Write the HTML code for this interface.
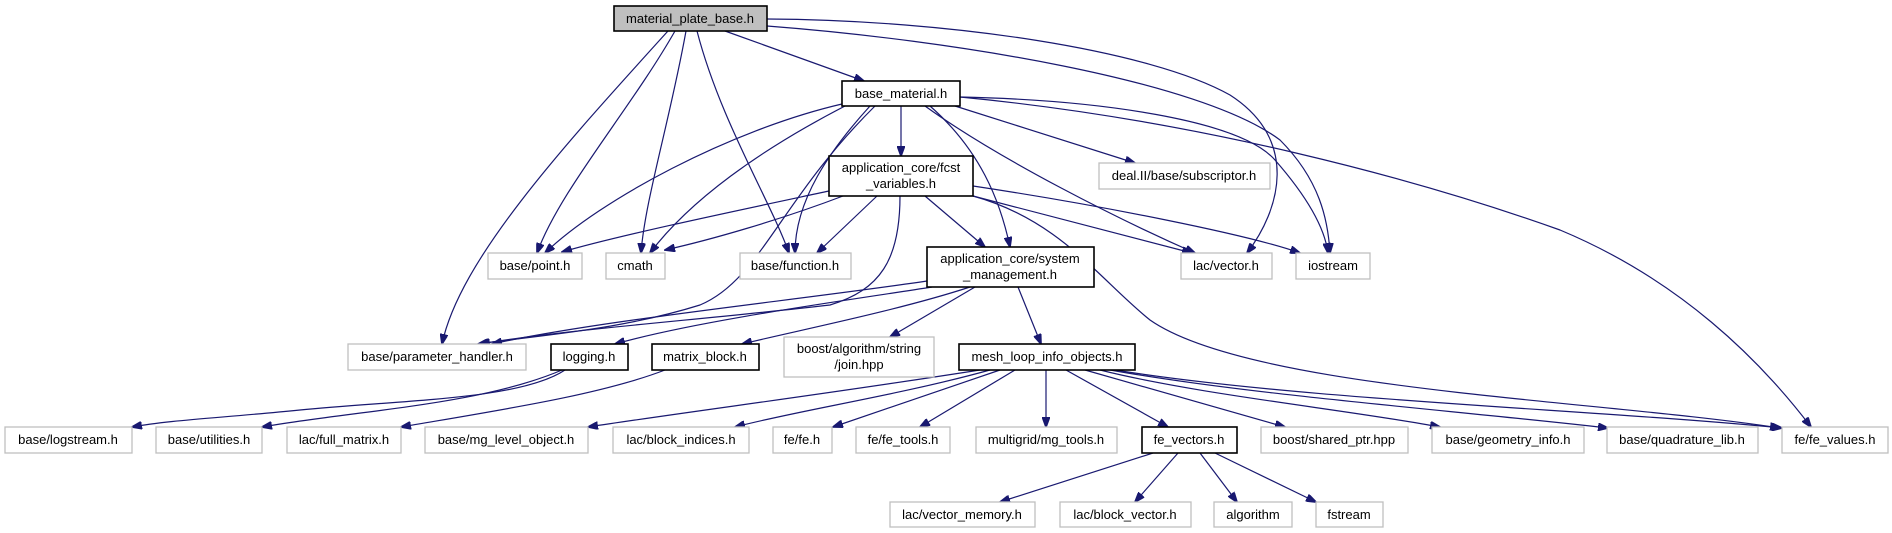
<!DOCTYPE html>
<html><head><meta charset="utf-8"><style>
html,body{margin:0;padding:0;background:#fff;}
svg{display:block;}
text{font-family:"Liberation Sans",Arial,sans-serif;font-size:13px;fill:#000;text-anchor:middle;}
.g{fill:#fff;stroke:#bfbfbf;stroke-width:1.3;}
.b{fill:#fff;stroke:#000;stroke-width:1.6;}
.e{fill:none;stroke:#191970;stroke-width:1.2;marker-end:url(#a);}
</style></head><body>
<svg width="1892" height="533" viewBox="0 0 1892 533" xmlns="http://www.w3.org/2000/svg">
<defs><marker id="a" markerWidth="11" markerHeight="8" refX="10" refY="4" orient="auto" markerUnits="userSpaceOnUse"><path d="M0,0 L11,4 L0,8 z" fill="#191970" stroke="#191970"/></marker></defs>

<path class="e" d="M725,31 L864,81"/>
<path class="e" d="M675,31 C630,110 560,190 537,253"/>
<path class="e" d="M686,31 C670,120 645,200 641,253"/>
<path class="e" d="M697,31 C720,120 770,200 789,253"/>
<path class="e" d="M668,31 C560,150 460,260 442,344"/>
<path class="e" d="M767,19 C950,20 1150,50 1230,95 C1300,140 1280,210 1247,253"/>
<path class="e" d="M767,26 C950,40 1200,80 1280,140 C1320,180 1328,220 1330,253"/>

<path class="e" d="M901,106 L901,156"/>
<path class="e" d="M955,106 L1135,163"/>
<path class="e" d="M960,97 C1100,100 1240,120 1275,160 C1310,200 1325,230 1328,253"/>
<path class="e" d="M960,97 C1200,120 1420,180 1560,230 C1680,280 1760,360 1811,427"/>
<path class="e" d="M925,106 C1000,160 1120,220 1195,253"/>
<path class="e" d="M930,106 C980,150 1000,200 1010,247"/>
<path class="e" d="M842,104 C730,130 600,200 545,253"/>
<path class="e" d="M845,106 C760,150 690,200 650,253"/>
<path class="e" d="M870,106 C830,150 795,200 795,253"/>
<path class="e" d="M875,106 C780,200 760,280 700,305 C620,330 540,335 478,344"/>

<path class="e" d="M829,191 C740,210 620,235 562,252"/>
<path class="e" d="M843,196 C780,220 710,240 665,250"/>
<path class="e" d="M877,196 L817,253"/>
<path class="e" d="M900,196 C900,260 880,290 830,305 C700,320 560,330 480,344"/>
<path class="e" d="M925,196 L985,247"/>
<path class="e" d="M973,196 L1192,253"/>
<path class="e" d="M973,186 C1100,205 1250,235 1300,253"/>
<path class="e" d="M973,196 C1060,220 1100,280 1150,320 C1250,390 1600,400 1780,428"/>

<path class="e" d="M927,281 C800,300 600,320 492,344"/>
<path class="e" d="M932,287 C850,300 700,320 615,344"/>
<path class="e" d="M970,287 C900,310 800,330 742,344"/>
<path class="e" d="M975,287 L890,337"/>
<path class="e" d="M1018,287 L1041,344"/>

<path class="e" d="M565,370 C520,400 400,400 300,410 C220,418 170,420 132,427"/>
<path class="e" d="M562,370 C480,405 360,410 262,427"/>
<path class="e" d="M665,370 C600,395 500,410 401,427"/>

<path class="e" d="M980,370 C820,395 700,410 588,427"/>
<path class="e" d="M990,370 C900,395 800,410 735,427"/>
<path class="e" d="M1000,370 L833,427"/>
<path class="e" d="M1015,370 L920,427"/>
<path class="e" d="M1046,370 L1046,427"/>
<path class="e" d="M1066,370 L1168,427"/>
<path class="e" d="M1085,370 L1285,427"/>
<path class="e" d="M1100,370 C1200,395 1350,410 1440,427"/>
<path class="e" d="M1110,370 C1250,395 1450,410 1608,428"/>
<path class="e" d="M1115,370 C1300,400 1600,410 1782,428"/>

<path class="e" d="M1153,453 L1000,502"/>
<path class="e" d="M1178,453 L1135,502"/>
<path class="e" d="M1200,453 L1237,502"/>
<path class="e" d="M1215,453 L1316,502"/>

<rect x="614" y="6" width="153" height="25" fill="#bfbfbf" stroke="#000" stroke-width="1.6"/><text x="690" y="23">material_plate_base.h</text>
<rect class="b" x="842" y="81" width="118" height="25"/><text x="901" y="98">base_material.h</text>
<rect class="b" x="829" y="156" width="144" height="40"/><text x="901" y="172">application_core/fcst</text><text x="901" y="188">_variables.h</text>
<rect class="g" x="1099" y="163" width="171" height="26"/><text x="1184" y="180">deal.II/base/subscriptor.h</text>
<rect class="g" x="488" y="253" width="94" height="26"/><text x="535" y="270">base/point.h</text>
<rect class="g" x="606" y="253" width="59" height="26"/><text x="635" y="270">cmath</text>
<rect class="g" x="740" y="253" width="111" height="26"/><text x="795" y="270">base/function.h</text>
<rect class="b" x="927" y="247" width="167" height="40"/><text x="1010" y="263">application_core/system</text><text x="1010" y="279">_management.h</text>
<rect class="g" x="1181" y="253" width="91" height="26"/><text x="1226" y="270">lac/vector.h</text>
<rect class="g" x="1296" y="253" width="74" height="26"/><text x="1333" y="270">iostream</text>
<rect class="g" x="348" y="344" width="178" height="26"/><text x="437" y="361">base/parameter_handler.h</text>
<rect class="b" x="551" y="344" width="77" height="26"/><text x="589" y="361">logging.h</text>
<rect class="b" x="652" y="344" width="107" height="26"/><text x="705" y="361">matrix_block.h</text>
<rect class="g" x="784" y="337" width="150" height="40"/><text x="859" y="353">boost/algorithm/string</text><text x="859" y="369">/join.hpp</text>
<rect class="b" x="959" y="344" width="176" height="26"/><text x="1047" y="361">mesh_loop_info_objects.h</text>
<rect class="g" x="5" y="427" width="127" height="26"/><text x="68" y="444">base/logstream.h</text>
<rect class="g" x="156" y="427" width="106" height="26"/><text x="209" y="444">base/utilities.h</text>
<rect class="g" x="287" y="427" width="114" height="26"/><text x="344" y="444">lac/full_matrix.h</text>
<rect class="g" x="425" y="427" width="163" height="26"/><text x="506" y="444">base/mg_level_object.h</text>
<rect class="g" x="613" y="427" width="136" height="26"/><text x="681" y="444">lac/block_indices.h</text>
<rect class="g" x="773" y="427" width="59" height="26"/><text x="802" y="444">fe/fe.h</text>
<rect class="g" x="856" y="427" width="94" height="26"/><text x="903" y="444">fe/fe_tools.h</text>
<rect class="g" x="976" y="427" width="141" height="26"/><text x="1046" y="444">multigrid/mg_tools.h</text>
<rect class="b" x="1142" y="427" width="95" height="26"/><text x="1189" y="444">fe_vectors.h</text>
<rect class="g" x="1261" y="427" width="147" height="26"/><text x="1334" y="444">boost/shared_ptr.hpp</text>
<rect class="g" x="1432" y="427" width="152" height="26"/><text x="1508" y="444">base/geometry_info.h</text>
<rect class="g" x="1607" y="427" width="151" height="26"/><text x="1682" y="444">base/quadrature_lib.h</text>
<rect class="g" x="1782" y="427" width="106" height="26"/><text x="1835" y="444">fe/fe_values.h</text>
<rect class="g" x="890" y="502" width="145" height="25"/><text x="962" y="519">lac/vector_memory.h</text>
<rect class="g" x="1060" y="502" width="131" height="25"/><text x="1125" y="519">lac/block_vector.h</text>
<rect class="g" x="1214" y="502" width="78" height="25"/><text x="1253" y="519">algorithm</text>
<rect class="g" x="1316" y="502" width="67" height="25"/><text x="1349" y="519">fstream</text>
</svg>
</body></html>
